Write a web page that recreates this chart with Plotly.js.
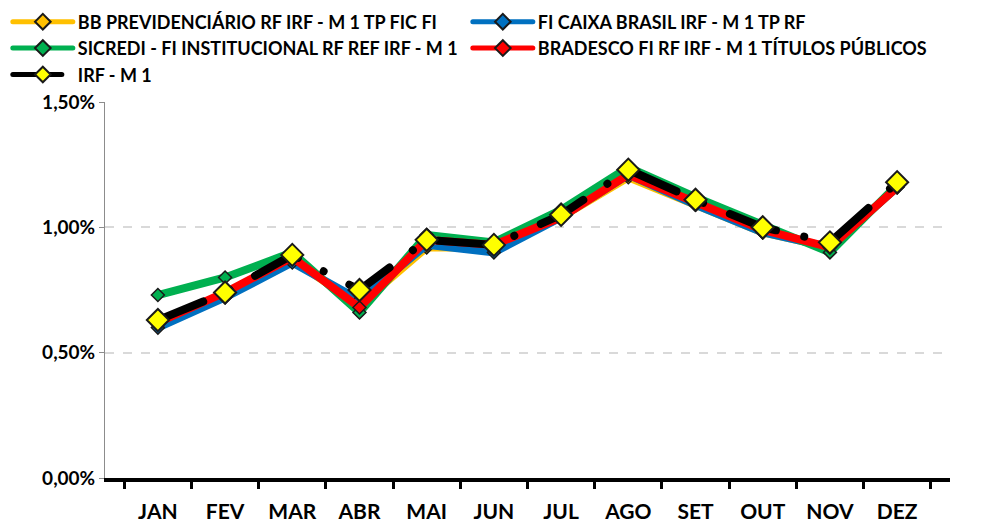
<!DOCTYPE html>
<html>
<head>
<meta charset="utf-8">
<script src="https://cdn.plot.ly/plotly-3.0.1.min.js"></script>
<style>
html,body{margin:0;padding:0;background:#fff;}
#chart{width:982px;height:524px;}
.js-line{stroke-linecap:round;}
</style>
</head>
<body>
<div id="chart"></div>
<script>
const months = ["JAN","FEV","MAR","ABR","MAI","JUN","JUL","AGO","SET","OUT","NOV","DEZ"];

const seriesNames = [
  "BB PREVIDENCIÁRIO RF IRF - M 1 TP FIC FI",
  "FI CAIXA BRASIL IRF - M 1 TP RF",
  "SICREDI - FI INSTITUCIONAL RF REF IRF - M 1",
  "BRADESCO FI RF IRF - M 1 TÍTULOS PÚBLICOS",
  "IRF - M 1"
];

const bbValues       = [0.62, 0.73, 0.87, 0.69, 0.92, 0.92, 1.04, 1.20, 1.09, 0.98, 0.92, 1.16];
const caixaValues    = [0.60, 0.72, 0.86, 0.71, 0.93, 0.90, 1.04, 1.21, 1.09, 0.98, 0.92, 1.16];
const sicrediValues  = [0.73, 0.80, 0.90, 0.66, 0.97, 0.94, 1.07, 1.24, 1.12, 1.01, 0.90, 1.17];
const bradescoValues = [0.62, 0.74, 0.88, 0.68, 0.95, 0.93, 1.04, 1.21, 1.10, 0.99, 0.92, 1.16];
const irfm1Values    = [0.63, 0.74, 0.89, 0.75, 0.95, 0.93, 1.05, 1.23, 1.11, 1.00, 0.94, 1.18];

const yTicks = [0, 0.5, 1.0, 1.5];
const yTickText = yTicks.map(v => v.toFixed(2).replace(".", ",") + "%");

const FONT = "Lato, 'Open Sans', sans-serif";

function fundTrace(name, values, color) {
  return {
    type: "scatter", mode: "lines+markers", name: name,
    x: months, y: values,
    line: {color: color, width: 8},
    marker: {symbol: "diamond", size: 10, color: color, line: {color: "#1a1a1a", width: 1.5}}
  };
}

const traces = [
  fundTrace(seriesNames[0], bbValues, "#FFC000"),
  fundTrace(seriesNames[1], caixaValues, "#0070C0"),
  fundTrace(seriesNames[2], sicrediValues, "#00B050"),
  fundTrace(seriesNames[3], bradescoValues, "#FF0000"),
  {
    type: "scatter", mode: "lines+markers", name: seriesNames[4],
    x: months, y: irfm1Values,
    line: {color: "#000000", width: 8, dash: "49px,29px,0.01px,29px"},
    marker: {symbol: "diamond", size: 17, color: "#FFFF00", line: {color: "#1a1a1a", width: 2}}
  }
];

const layout = {
  width: 982, height: 524,
  margin: {l: 105, r: 32, t: 102, b: 46, autoexpand: false},
  paper_bgcolor: "#fff", plot_bgcolor: "#fff",
  font: {family: FONT, size: 17, color: "#000", weight: "bold"},
  showlegend: true,
  legend: {
    orientation: "h",
    xref: "paper", yref: "paper",
    x: -0.115, y: 1.262, xanchor: "left", yanchor: "top",
    entrywidth: 385, entrywidthmode: "pixels",
    itemwidth: 60, itemsizing: "constant",
    font: {family: FONT, size: 18, color: "#000", weight: "bold"},
    bgcolor: "rgba(0,0,0,0)"
  },
  xaxis: {
    type: "category",
    showline: true, linecolor: "#000", linewidth: 4,
    ticks: "outside", tickson: "boundaries", ticklen: 7, tickwidth: 3, tickcolor: "#000",
    ticklabelstandoff: 12,
    showgrid: false, zeroline: false,
    tickfont: {family: FONT, size: 21, color: "#000", weight: "bold"},
    fixedrange: true
  },
  yaxis: {
    range: [0, 1.5],
    tickvals: yTicks, ticktext: yTickText,
    showline: true, linecolor: "#8c8c8c", linewidth: 1,
    ticks: "outside", ticklen: 5, tickcolor: "#8c8c8c",
    showgrid: true, gridcolor: "#d9d9d9", gridwidth: 2, griddash: "dash",
    zeroline: false,
    tickfont: {family: FONT, size: 19, color: "#000", weight: "bold"},
    fixedrange: true
  }
};

Plotly.newPlot("chart", traces, layout, {displayModeBar: false, staticPlot: true});
</script>
</body>
</html>
